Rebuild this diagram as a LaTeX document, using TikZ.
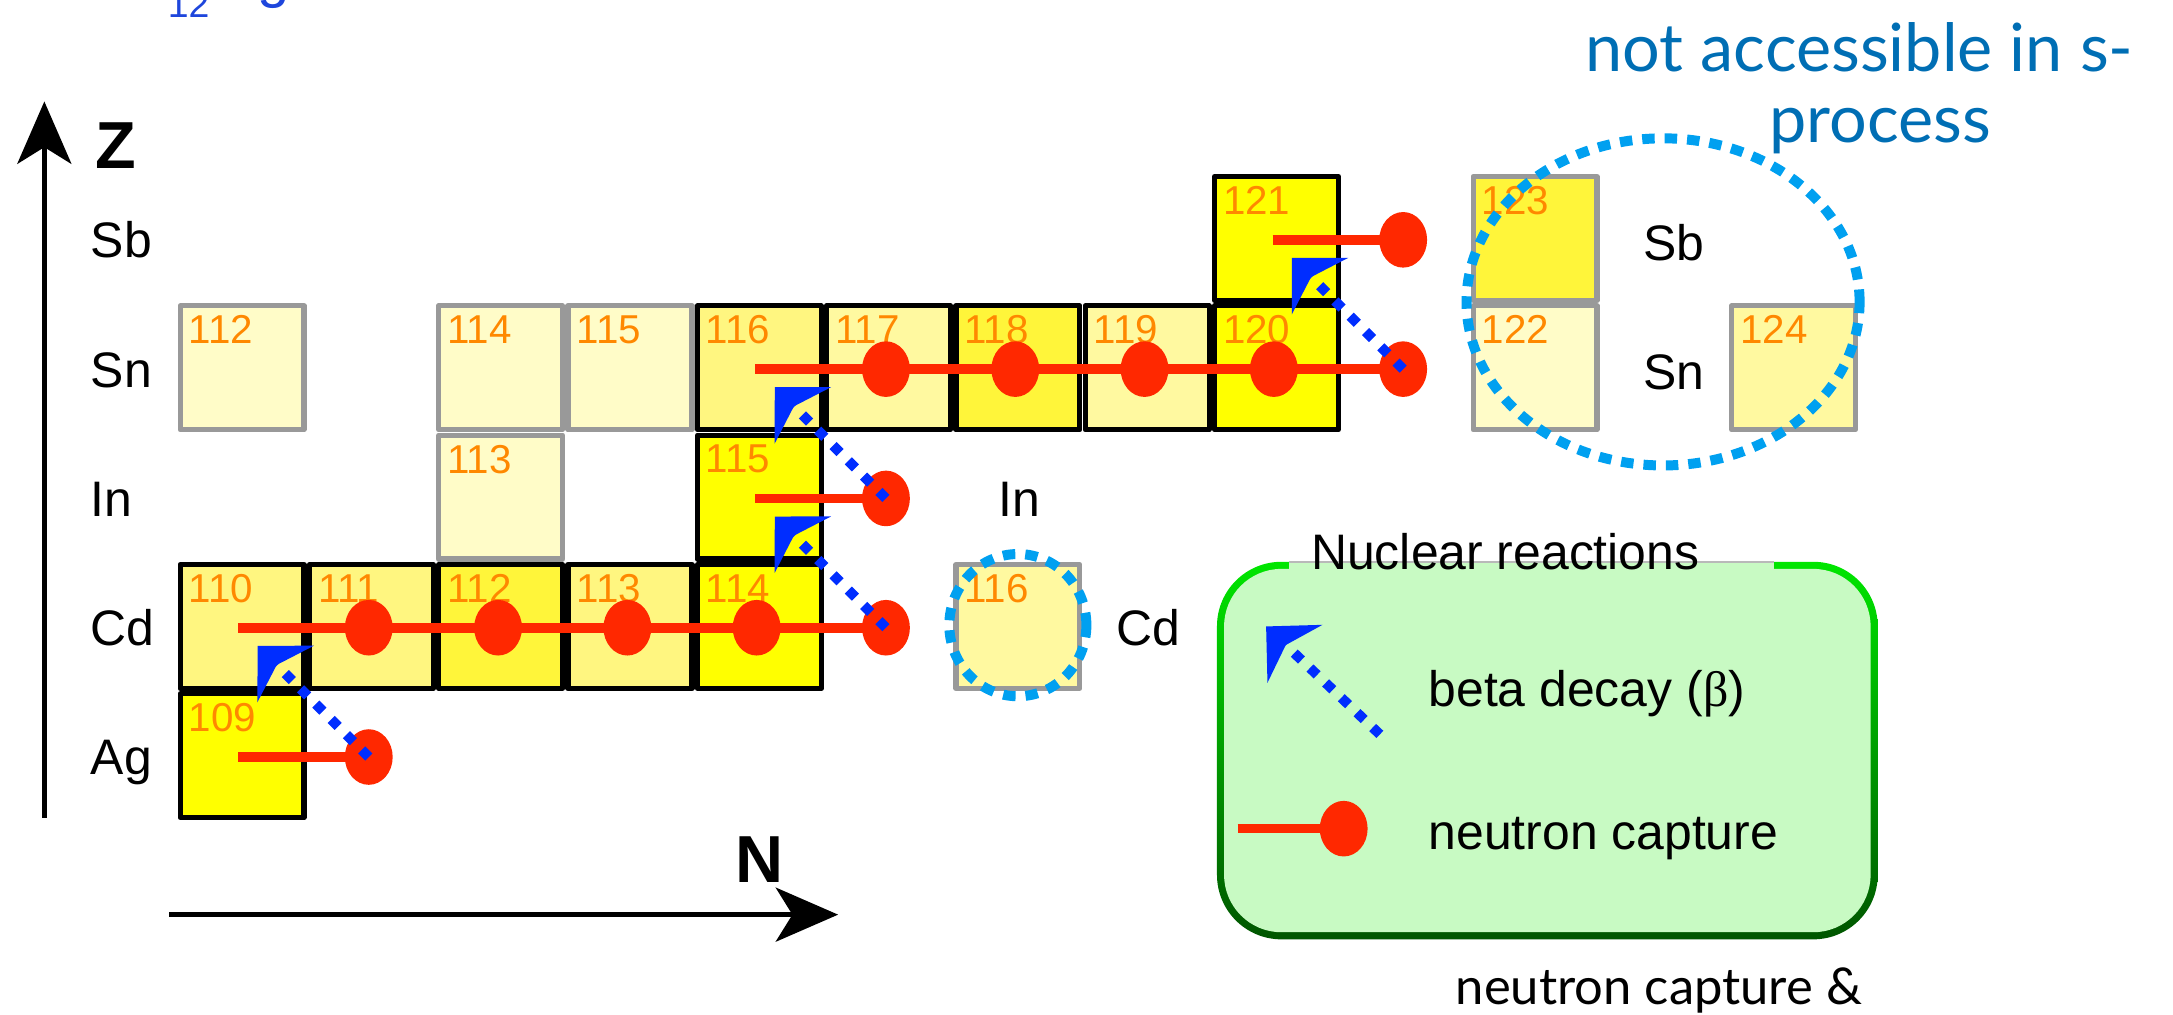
\documentclass[tikz,border=0pt]{standalone}
\usepackage{fontspec}
\setmainfont{Liberation Sans}
\newfontfamily\slidefont{Lato}
\newfontfamily\symbfont{Liberation Serif}
\usetikzlibrary{arrows.meta}

\definecolor{isoorange}{RGB}{255,136,0}
\definecolor{capred}{RGB}{255,40,0}
\definecolor{betablue}{RGB}{0,45,255}
\definecolor{gapcyan}{RGB}{0,160,240}
\definecolor{slideblue}{RGB}{0,110,180}
\definecolor{fragblue}{RGB}{30,70,220}
\definecolor{legfill}{RGB}{200,250,195}
\definecolor{legtop}{RGB}{0,230,0}
\definecolor{legmid}{RGB}{0,140,0}
\definecolor{legbot}{RGB}{0,85,0}
\definecolor{abA}{RGB}{255,255,0}
\definecolor{abB}{RGB}{255,245,58}
\definecolor{abC}{RGB}{255,246,128}
\definecolor{abD}{RGB}{255,249,160}
\definecolor{abE}{RGB}{255,252,200}

\tikzset{
	pathiso/.style={draw=black, line width=1.25pt, minimum width=29.8pt, minimum height=29.8pt, inner sep=0pt},
	sideiso/.style={pathiso, draw=gray!80},
	isonum/.style={anchor=north west, inner sep=0pt, text=isoorange, font=\fontsize{9.7}{10}\selectfont},
	elem/.style={anchor=west, inner sep=0pt, text height=8.6pt, text depth=0pt, font=\fontsize{12}{12}\selectfont},
	capline/.style={capred, line width=2.3pt},
	betaline/.style={betablue, line width=2.4pt, dash pattern=on 2.4pt off 2.8pt, -{Stealth[length=9.5pt, width=19pt, inset=3pt]}},
	gapline/.style={gapcyan, line width=2.4pt, dash pattern=on 3pt off 2.4pt},
	axisarrow/.style={black, line width=1.1pt, -{Stealth[length=15pt, width=13pt, inset=4pt]}},
	axislabel/.style={inner sep=0pt, font=\bfseries\fontsize{16}{16}\selectfont},
}

\begin{document}
\begin{tikzpicture}[line join=round, x=31.1pt, y=31.1pt]
	\useasboundingbox (-1.372,-1.5005) rectangle (15.434,6.345);
	\pgfmathsetmacro{\dotrx}{0.185}
	\pgfmathsetmacro{\dotry}{0.215}
	\node[anchor=base west, inner sep=0pt, font=\fontsize{14}{14}\selectfont] (frag) at (-0.08,6.37) {\textcolor{fragblue}{\raisebox{-5pt}{\fontsize{9}{9}\selectfont 12}Mg}\hspace{11pt}\textcolor{isoorange}{+}\hspace{11pt}\textcolor{fragblue}{n}};
	\node[anchor=base, inner sep=0pt, text=slideblue, font=\slidefont\fontsize{16}{18}\selectfont] (slidetop) at (13.01,5.79) {not accessible in s-};
	\node[anchor=base, inner sep=0pt, text=slideblue, font=\slidefont\fontsize{16}{18}\selectfont] (slidebot) at (13.17,5.24) {process};
	\node[anchor=base west, inner sep=0pt, font=\slidefont\fontsize{12.2}{14}\selectfont] (slidenote) at (9.88,-1.425) {neutron capture \&};
	\coordinate (zfoot) at (-1.029,0.02);
	\coordinate (ztip) at (-1.029,5.56);
	\coordinate (nfoot) at (-0.064,-0.729);
	\coordinate (ntip) at (5.11,-0.729);
	\draw[axisarrow] (zfoot) -- (ztip);
	\draw[axisarrow] (nfoot) -- (ntip);
	\node[axislabel] (zlab) at (-0.48,5.22) {Z};
	\node[axislabel] (nlab) at (4.50,-0.30) {N};
	\foreach \el/\r in {Ag/0, Cd/1, In/2, Sn/3, Sb/4} {
		\node[elem] (row-\el) at (-0.675,\r+0.49) {\el};
	}
	\node[elem] (right-In) at (6.345,2.49) {In};
	\node[elem] (right-Cd) at (7.256,1.49) {Cd};
	\node[elem] (right-Sb) at (11.33,4.47) {Sb};
	\node[elem] (right-Sn) at (11.33,3.47) {Sn};
	\begin{scope}
		\foreach \c/\r/\A/\col in {0/3/112/abE, 2/3/114/abE, 3/3/115/abE, 2/2/113/abE, 6/1/116/abD, 10/4/123/abB, 10/3/122/abE, 12/3/124/abD} {
			\node[sideiso, fill=\col] (iso-\c-\r) at (\c+0.5,\r+0.5) {};
			\node[isonum] (num-\c-\r) at ([shift={(2.5pt,-2.8pt)}]iso-\c-\r.north west) {\A};
		}
		\foreach \c/\r/\A/\col in {0/0/109/abA, 0/1/110/abC, 1/1/111/abC, 2/1/112/abB, 3/1/113/abC, 4/1/114/abA, 4/2/115/abA, 4/3/116/abC, 5/3/117/abD, 6/3/118/abB, 7/3/119/abD, 8/3/120/abA, 8/4/121/abA} {
			\node[pathiso, fill=\col] (iso-\c-\r) at (\c+0.5,\r+0.5) {};
			\node[isonum] (num-\c-\r) at ([shift={(2.5pt,-2.8pt)}]iso-\c-\r.north west) {\A};
		}
	\end{scope}
	\begin{scope}
		\foreach \c/\r in {0/0, 0/1, 1/1, 2/1, 3/1, 4/1, 4/2, 4/3, 5/3, 6/3, 7/3, 8/3, 8/4} {
			\coordinate (beg-\c-\r) at (\c+0.47,\r+0.49);
			\coordinate (dot-\c-\r) at (\c+1.48,\r+0.49);
			\draw[capline] (beg-\c-\r) -- (dot-\c-\r);
		}
		\foreach \c/\r in {0/0, 0/1, 1/1, 2/1, 3/1, 4/1, 4/2, 4/3, 5/3, 6/3, 7/3, 8/3, 8/4} {
			\fill[capred] (dot-\c-\r) ellipse [x radius=\dotrx, y radius=\dotry];
		}
		\foreach \c/\r in {0/0, 4/1, 4/2, 8/3} {
			\coordinate (tip-\c-\r) at (\c+0.62,\r+1.35);
			\draw[betaline] (dot-\c-\r) -- (tip-\c-\r);
		}
	\end{scope}
	\coordinate (gapbig) at (11.49,4.01);
	\coordinate (gapsmall) at (6.50,1.51);
	\draw[gapline] (gapbig) ellipse [x radius=1.52, y radius=1.265];
	\draw[gapline] (gapsmall) ellipse [x radius=0.53, y radius=0.55];
	\begin{scope}
		\shade[top color=legtop, middle color=legmid, bottom color=legbot, rounded corners=15.5pt] (8.04,-0.92) rectangle (13.15,2.00);
		\fill[legfill, rounded corners=13.8pt] (8.095,-0.865) rectangle (13.095,1.945);
		\fill[legfill] (8.60,1.90) rectangle (12.35,2.00);
		\draw[gray!55, line width=0.4pt] (8.60,2.00) -- (12.35,2.00);
		\node[inner sep=0pt, font=\fontsize{12}{12}\selectfont] (legtitle) at (10.27,2.08) {Nuclear reactions};
		\coordinate (legbeta) at (9.30,0.665);
		\coordinate (legbetatip) at (8.42,1.50);
		\draw[betaline] (legbeta) -- (legbetatip);
		\node[elem] (legbetatext) at (9.67,1.02) {beta decay ({\symbfont β})};
		\coordinate (legcap) at (8.20,-0.064);
		\coordinate (legcapdot) at (9.02,-0.064);
		\draw[capline] (legcap) -- (legcapdot);
		\fill[capred] (legcapdot) ellipse [x radius=\dotrx, y radius=\dotry];
		\node[elem] (legcaptext) at (9.67,-0.086) {neutron capture};
	\end{scope}
\end{tikzpicture}
\end{document}
